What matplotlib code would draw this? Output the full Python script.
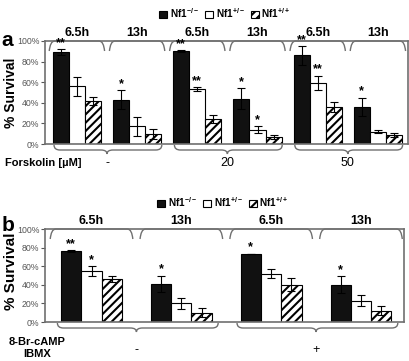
import numpy as np
import matplotlib
matplotlib.use('Agg')
import matplotlib.pyplot as plt
from matplotlib.patches import Patch, PathPatch
from matplotlib.path import Path

plt.rcParams['font.family'] = ['Liberation Sans', 'DejaVu Sans']
plt.rcParams['mathtext.fontset'] = 'custom'
plt.rcParams['mathtext.default'] = 'regular'
plt.rcParams['hatch.linewidth'] = 1.5

# data
series = ['Nf1$^{-/-}$', 'Nf1$^{+/-}$', 'Nf1$^{+/+}$']

times_a = ['6.5h', '13h', '6.5h', '13h', '6.5h', '13h']
forskolin = ['-', '20', '50']
a_ko = [89, 43, 90, 44, 86, 36]
a_ko_err = [3, 9, 1, 10, 9, 9]
a_het = [56, 17, 53, 14, 59, 12]
a_het_err = [9, 9, 2, 3, 7, 1.5]
a_wt = [42, 10, 24, 7, 36, 9]
a_wt_err = [4, 5, 4, 2, 5, 2]
a_ko_stars = ['**', '*', '**', '*', '**', '*']
a_het_stars = ['', '', '**', '*', '**', '']

times_b = ['6.5h', '13h', '6.5h', '13h']
camp = ['-', '+']
b_ko = [76, 41, 73, 40]
b_ko_err = [1, 9, 0, 9]
b_het = [55, 20, 52, 23]
b_het_err = [5, 6, 5, 6]
b_wt = [46, 10, 40, 12]
b_wt_err = [3, 5, 7, 5]
b_ko_stars = ['**', '*', '*', '*']
b_het_stars = ['*', '', '', '']

GRAY = '#707070'
faces = ['#111111', 'white', 'white']
hatches = [None, None, '////']


def top_bracket(ax, x0, x1, dx, h):
    tr = ax.get_xaxis_transform()
    verts = [(x0, 1 - h), (x0 + dx * 0.2, 1 - h * 0.4), (x0 + dx * 0.5, 1), (x0 + dx * 1.5, 1),
             (x1 - dx * 1.5, 1), (x1 - dx * 0.5, 1), (x1 - dx * 0.2, 1 - h * 0.4), (x1, 1 - h)]
    codes = [Path.MOVETO, Path.CURVE4, Path.CURVE4, Path.CURVE4,
             Path.LINETO, Path.CURVE4, Path.CURVE4, Path.CURVE4]
    ax.add_patch(PathPatch(Path(verts, codes), transform=tr, fc='none', ec=GRAY, lw=1, clip_on=False))


def bottom_brace(ax, x0, x1, xm, r, ye, yf, yt):
    tr = ax.get_xaxis_transform()
    verts = [(x0, ye), (x0, yf), (x0 + r, yf),
             (xm - r, yf), (xm, yf), (xm, yt),
             (xm, yf), (xm + r, yf),
             (x1 - r, yf), (x1, yf), (x1, ye)]
    codes = [Path.MOVETO, Path.CURVE3, Path.CURVE3,
             Path.LINETO, Path.CURVE3, Path.CURVE3,
             Path.CURVE3, Path.CURVE3,
             Path.LINETO, Path.CURVE3, Path.CURVE3]
    ax.add_patch(PathPatch(Path(verts, codes), transform=tr, fc='none', ec=GRAY, lw=1, clip_on=False))


def panel(ax, vals, errs, stars, times, conds, width, xlim, px):
    n = len(times)
    x = np.arange(n)
    for i in range(3):
        ax.bar(x + (i - 1) * width, vals[i], width, color=faces[i], edgecolor='black',
               hatch=hatches[i], linewidth=0.8, zorder=2)
        ax.errorbar(x + (i - 1) * width, vals[i], yerr=errs[i], fmt='none', ecolor='black',
                    elinewidth=0.8, capsize=3, capthick=0.8, zorder=3)
    for i in range(2):
        for g in range(n):
            if stars[i][g]:
                ax.annotate(stars[i][g], (g + (i - 1) * width, vals[i][g] + errs[i][g]),
                            xytext=(0, 2.5), textcoords='offset points', ha='center',
                            va='baseline', fontsize=9, fontweight='bold', zorder=4,
                            annotation_clip=False)
    ax.set_xlim(*xlim)
    ax.set_ylim(0, 100)
    ax.set_yticks(range(0, 101, 20))
    ax.set_yticklabels(['%d%%' % v for v in range(0, 101, 20)])
    ax.set_xticks([])
    ax.tick_params(axis='y', labelsize=6.3, colors='#555555', length=3, width=0.8, pad=1)
    for s in ax.spines.values():
        s.set_color(GRAY)
        s.set_linewidth(1.2)
    # top brackets and time labels
    dx = 4 / px[0]
    h = 10 / px[1]
    for g in range(n):
        top_bracket(ax, g - 0.46, g + 0.46, dx, h)
        ax.text(g, 1 + 8 / px[1], times[g], transform=ax.get_xaxis_transform(),
                ha='center', va='center', fontsize=9, fontweight='bold')
    # bottom braces grouping the two time points of each condition
    for k in range(len(conds)):
        bottom_brace(ax, 2 * k - 0.38, 2 * k + 1 + 0.41, 2 * k + 0.5, 6 / px[0],
                     -1 / px[1], -6 / px[1], -10 / px[1])


fig = plt.figure(figsize=(4.09, 3.61), dpi=100)
axa = fig.add_axes([45 / 409, 1 - 144 / 361, 363 / 409, 103 / 361])
axb = fig.add_axes([45 / 409, 1 - 322 / 361, 359 / 409, 93 / 361])

panel(axa, [a_ko, a_het, a_wt], [a_ko_err, a_het_err, a_wt_err], [a_ko_stars, a_het_stars],
      times_a, forskolin, 0.267, (-0.53, 5.5), (60.2, 103))
panel(axb, [b_ko, b_het, b_wt], [b_ko_err, b_het_err, b_wt_err], [b_ko_stars, b_het_stars],
      times_b, camp, 0.226, (-0.518, 3.479), (89.8, 93))

for k, c in enumerate(forskolin):
    axa.text(2 * k + 0.5, -19 / 103, c, transform=axa.get_xaxis_transform(),
             ha='center', va='center', fontsize=9)
for k, c in enumerate(camp):
    axb.text(2 * k + 0.5, -28 / 93, c, transform=axb.get_xaxis_transform(),
             ha='center', va='center', fontsize=9)

fig.text(5 / 409, 1 - 163 / 361, 'Forskolin [µM]', ha='left', va='center', fontsize=8, fontweight='bold')
fig.text(37 / 409, 1 - 342 / 361, '8-Br-cAMP', ha='center', va='center', fontsize=8, fontweight='bold')
fig.text(37 / 409, 1 - 354 / 361, 'IBMX', ha='center', va='center', fontsize=8, fontweight='bold')

fig.text(7 / 409, 1 - 40 / 361, 'a', ha='center', va='center', fontsize=15, fontweight='bold')
fig.text(8 / 409, 1 - 225 / 361, 'b', ha='center', va='center', fontsize=15, fontweight='bold')
fig.text(11 / 409, 1 - 93 / 361, '% Survival', rotation=90, ha='center', va='center',
         fontsize=10, fontweight='bold')
fig.text(11 / 409, 1 - 271 / 361, '% Survival', rotation=90, ha='center', va='center',
         fontsize=11, fontweight='bold')

handles = [Patch(facecolor=faces[i], edgecolor='black', hatch=hatches[i], linewidth=0.8)
           for i in range(3)]
for cy, cx in [(1 - 13 / 361, 225 / 409), (1 - 202 / 361, 223 / 409)]:
    fig.legend(handles, series, loc='center', bbox_to_anchor=(cx, cy), ncol=3, frameon=False,
               prop={'size': 7.2, 'weight': 'bold'}, handlelength=0.8, handleheight=0.8,
               handletextpad=0.25, columnspacing=0.6, borderpad=0, borderaxespad=0)

fig.savefig('out.png', dpi=100)
